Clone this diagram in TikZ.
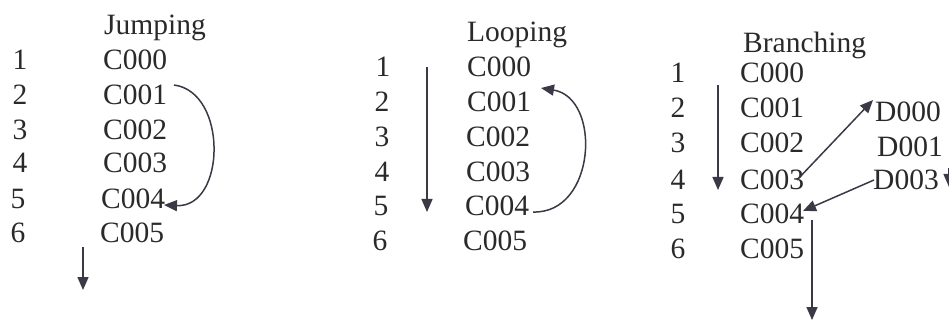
\documentclass[tikz,border=0pt]{standalone}
\usepackage{fontspec}
\setmainfont{Liberation Serif}
\usetikzlibrary{arrows.meta}
\definecolor{txt}{HTML}{2A2A2A}
\definecolor{arc}{HTML}{3A3A46}
\begin{document}
\begin{tikzpicture}[x=1pt,y=-1pt,
  lbl/.style={anchor=base west, inner sep=0pt, font=\fontsize{29.5}{34}\selectfont, text=txt},
  num/.style={anchor=base, inner sep=0pt, font=\fontsize{29.5}{34}\selectfont, text=txt},
  arr/.style={draw=arc, line width=1.5pt, -{Triangle[length=13pt,width=11pt]}}]
\useasboundingbox[fill=white] (0,0) rectangle (949,320);

% ---------- Jumping ----------
\node[lbl] (jt) at (104,35) {Jumping};
\foreach \i/\nx/\cx/\y in {1/20/103/70, 2/20/103/105, 3/20/103/140, 4/20/103/173, 5/18/101/208, 6/18/100/242}{
  \pgfmathtruncatemacro{\k}{\i-1}
  \node[num] (j\i) at (\nx,\y) {\i};
  \node[lbl] (jc\i) at (\cx,\y) {C00\k};
}
\coordinate (js) at (174,85);
\coordinate (je) at (164,205);
\draw[arr] (js) .. controls (228,92) and (226,208) .. (je);
\coordinate (jd1) at (83,247);
\coordinate (jd2) at (83,290);
\draw[arr] (jd1) -- (jd2);

% ---------- Looping ----------
\node[lbl] (lt) at (467,42) {Looping};
\foreach \i/\nx/\cx/\y in {1/383/467/77, 2/382/467/112, 3/382/466/147, 4/382/466/182, 5/381/465/215, 6/380/463/250}{
  \pgfmathtruncatemacro{\k}{\i-1}
  \node[num] (l\i) at (\nx,\y) {\i};
  \node[lbl] (lc\i) at (\cx,\y) {C00\k};
}
\coordinate (ls) at (533,212);
\coordinate (le) at (541,88);
\draw[arr] (ls) .. controls (596,214) and (602,98) .. (le);
\coordinate (ld1) at (427,67);
\coordinate (ld2) at (427,212);
\draw[arr] (ld1) -- (ld2);

% ---------- Branching ----------
\node[lbl] (bt) at (743,53) {Branching};
\foreach \i/\nx/\cx/\y in {1/678/740/83, 2/678/740/118, 3/678/740/153, 4/678/740/190, 5/678/740/223, 6/678/740/258}{
  \pgfmathtruncatemacro{\k}{\i-1}
  \node[num] (b\i) at (\nx,\y) {\i};
  \node[lbl] (bc\i) at (\cx,\y) {C00\k};
}
\node[lbl] (d0) at (875,122) {D000};
\node[lbl] (d1) at (877,157) {D001};
\node[lbl] (d3) at (873,190) {D003};
\coordinate (bd1) at (718,85);
\coordinate (bd2) at (718,190);
\draw[arr] (bd1) -- (bd2);
\coordinate (b3e) at (797,180);
\coordinate (d0w) at (873,100);
\draw[arr] (b3e) -- (d0w);
\coordinate (d3w) at (874,180);
\coordinate (b4e) at (803,211);
\draw[arr] (d3w) -- (b4e);
\coordinate (b5s) at (812,220);
\coordinate (b5e) at (812,320);
\draw[arr] (b5s) -- (b5e);
\coordinate (dr1) at (949,168);
\coordinate (dr2) at (949,187);
\draw[arr] (dr1) -- (dr2);
\end{tikzpicture}
\end{document}
